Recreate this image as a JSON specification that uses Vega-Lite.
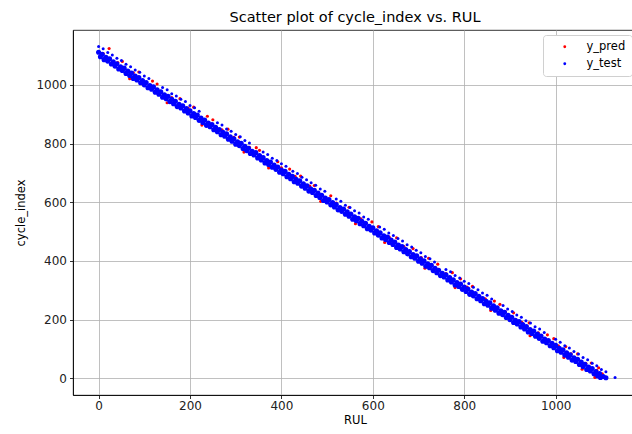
{
"$schema": "https://vega.github.io/schema/vega-lite/v6.json",
"width": 564, "height": 365,
"autosize": {"type": "none"},
"padding": {"left": 73, "top": 30, "right": 0, "bottom": 39},
"background": "white",
"title": {"text": "Scatter plot of cycle_index vs. RUL", "font": "DejaVu Sans", "fontSize": 14.5, "fontWeight": "normal", "color": "#000000", "offset": 5, "anchor": "middle"},
"config": {
  "view": {"stroke": "#000000", "strokeWidth": 0.8},
  "axis": {"labelFont": "DejaVu Sans", "labelFontSize": 12, "labelColor": "#222222", "titleFont": "DejaVu Sans", "titleFontSize": 11.5, "titleFontWeight": "normal", "titleColor": "#000000", "domainColor": "#000000", "domainWidth": 0.8, "tickColor": "#000000", "tickWidth": 0.8, "tickSize": 3.5, "gridColor": "#b0b0b0", "gridWidth": 0.8, "labelPadding": 2, "grid": true, "format": "d"},
  "legend": {"orient": "top-right", "offset": 5, "padding": 6, "strokeColor": "#d0d0d0", "fillColor": "#ffffff", "cornerRadius": 3, "symbolSize": 8, "symbolType": "circle", "symbolOffset": 10, "labelOffset": 16, "labelFont": "DejaVu Sans", "labelFontSize": 11.5, "labelColor": "#000000", "rowPadding": 4, "symbolStrokeWidth": 0}
},
"datasets": {
"pred": [
{"x":23,"y":1124,"s":"y_pred"},{"x":52,"y":1080,"s":"y_pred"},{"x":88,"y":1044,"s":"y_pred"},{"x":118,"y":1013,"s":"y_pred"},{"x":128,"y":1003,"s":"y_pred"},{"x":178,"y":953,"s":"y_pred"},{"x":208,"y":924,"s":"y_pred"},{"x":238,"y":893,"s":"y_pred"},{"x":250,"y":881,"s":"y_pred"},{"x":283,"y":849,"s":"y_pred"},{"x":308,"y":822,"s":"y_pred"},{"x":345,"y":786,"s":"y_pred"},{"x":352,"y":777,"s":"y_pred"},{"x":392,"y":738,"s":"y_pred"},{"x":418,"y":713,"s":"y_pred"},{"x":442,"y":689,"s":"y_pred"},{"x":472,"y":657,"s":"y_pred"},{"x":508,"y":622,"s":"y_pred"},{"x":548,"y":583,"s":"y_pred"},{"x":598,"y":533,"s":"y_pred"},{"x":612,"y":517,"s":"y_pred"},{"x":652,"y":479,"s":"y_pred"},{"x":688,"y":442,"s":"y_pred"},{"x":722,"y":409,"s":"y_pred"},{"x":742,"y":389,"s":"y_pred"},{"x":774,"y":360,"s":"y_pred"},{"x":792,"y":339,"s":"y_pred"},{"x":818,"y":313,"s":"y_pred"},{"x":866,"y":263,"s":"y_pred"},{"x":878,"y":252,"s":"y_pred"},{"x":908,"y":223,"s":"y_pred"},{"x":942,"y":189,"s":"y_pred"},{"x":982,"y":148,"s":"y_pred"},{"x":996,"y":135,"s":"y_pred"},{"x":1022,"y":108,"s":"y_pred"},{"x":1048,"y":83,"s":"y_pred"},{"x":1078,"y":52,"s":"y_pred"},{"x":1094,"y":36,"s":"y_pred"},
{"x":10,"y":1107,"s":"y_pred"},{"x":42,"y":1076,"s":"y_pred"},{"x":76,"y":1041,"s":"y_pred"},{"x":160,"y":957,"s":"y_pred"},{"x":196,"y":921,"s":"y_pred"},{"x":270,"y":847,"s":"y_pred"},{"x":296,"y":821,"s":"y_pred"},{"x":330,"y":787,"s":"y_pred"},{"x":400,"y":717,"s":"y_pred"},{"x":430,"y":688,"s":"y_pred"},{"x":462,"y":655,"s":"y_pred"},{"x":520,"y":597,"s":"y_pred"},{"x":574,"y":543,"s":"y_pred"},{"x":636,"y":481,"s":"y_pred"},{"x":668,"y":449,"s":"y_pred"},{"x":706,"y":411,"s":"y_pred"},{"x":760,"y":357,"s":"y_pred"},{"x":806,"y":311,"s":"y_pred"},{"x":846,"y":271,"s":"y_pred"},{"x":890,"y":227,"s":"y_pred"},{"x":926,"y":191,"s":"y_pred"},{"x":962,"y":155,"s":"y_pred"},{"x":1006,"y":111,"s":"y_pred"},{"x":1034,"y":83,"s":"y_pred"},{"x":1066,"y":51,"s":"y_pred"},{"x":1090,"y":27,"s":"y_pred"},{"x":1102,"y":15,"s":"y_pred"},
{"x":68,"y":1021,"s":"y_pred"},{"x":150,"y":939,"s":"y_pred"},{"x":226,"y":863,"s":"y_pred"},{"x":318,"y":771,"s":"y_pred"},{"x":372,"y":717,"s":"y_pred"},{"x":486,"y":603,"s":"y_pred"},{"x":562,"y":527,"s":"y_pred"},{"x":626,"y":463,"s":"y_pred"},{"x":714,"y":375,"s":"y_pred"},{"x":780,"y":309,"s":"y_pred"},{"x":858,"y":231,"s":"y_pred"},{"x":944,"y":145,"s":"y_pred"},{"x":1018,"y":71,"s":"y_pred"},{"x":1058,"y":31,"s":"y_pred"},{"x":1086,"y":3,"s":"y_pred"}
],
"band": [
{"x":0,"y":1111,"s":"y_test"},{"x":8,"y":1104,"s":"y_test"},{"x":16,"y":1094,"s":"y_test"},{"x":24,"y":1089,"s":"y_test"},{"x":32,"y":1079,"s":"y_test"},{"x":40,"y":1072,"s":"y_test"},{"x":48,"y":1062,"s":"y_test"},{"x":56,"y":1057,"s":"y_test"},{"x":64,"y":1047,"s":"y_test"},{"x":72,"y":1040,"s":"y_test"},{"x":80,"y":1030,"s":"y_test"},{"x":88,"y":1025,"s":"y_test"},{"x":96,"y":1015,"s":"y_test"},{"x":104,"y":1008,"s":"y_test"},{"x":112,"y":998,"s":"y_test"},{"x":120,"y":993,"s":"y_test"},{"x":128,"y":983,"s":"y_test"},{"x":136,"y":976,"s":"y_test"},{"x":144,"y":966,"s":"y_test"},{"x":152,"y":961,"s":"y_test"},{"x":160,"y":951,"s":"y_test"},{"x":168,"y":944,"s":"y_test"},{"x":176,"y":934,"s":"y_test"},{"x":184,"y":929,"s":"y_test"},{"x":192,"y":919,"s":"y_test"},{"x":200,"y":912,"s":"y_test"},{"x":208,"y":902,"s":"y_test"},{"x":216,"y":897,"s":"y_test"},{"x":224,"y":887,"s":"y_test"},{"x":232,"y":880,"s":"y_test"},{"x":240,"y":870,"s":"y_test"},{"x":248,"y":865,"s":"y_test"},{"x":256,"y":855,"s":"y_test"},{"x":264,"y":848,"s":"y_test"},{"x":272,"y":838,"s":"y_test"},{"x":280,"y":833,"s":"y_test"},{"x":288,"y":823,"s":"y_test"},{"x":296,"y":816,"s":"y_test"},{"x":304,"y":806,"s":"y_test"},{"x":312,"y":801,"s":"y_test"},{"x":320,"y":791,"s":"y_test"},{"x":328,"y":784,"s":"y_test"},{"x":336,"y":774,"s":"y_test"},{"x":344,"y":769,"s":"y_test"},{"x":352,"y":759,"s":"y_test"},{"x":360,"y":752,"s":"y_test"},{"x":368,"y":742,"s":"y_test"},{"x":376,"y":737,"s":"y_test"},{"x":384,"y":727,"s":"y_test"},{"x":392,"y":720,"s":"y_test"},{"x":400,"y":710,"s":"y_test"},{"x":408,"y":705,"s":"y_test"},{"x":416,"y":695,"s":"y_test"},{"x":424,"y":688,"s":"y_test"},{"x":432,"y":678,"s":"y_test"},{"x":440,"y":673,"s":"y_test"},{"x":448,"y":663,"s":"y_test"},{"x":456,"y":656,"s":"y_test"},{"x":464,"y":646,"s":"y_test"},{"x":472,"y":641,"s":"y_test"},{"x":480,"y":631,"s":"y_test"},{"x":488,"y":624,"s":"y_test"},{"x":496,"y":614,"s":"y_test"},{"x":504,"y":609,"s":"y_test"},{"x":512,"y":599,"s":"y_test"},{"x":520,"y":592,"s":"y_test"},{"x":528,"y":582,"s":"y_test"},{"x":536,"y":577,"s":"y_test"},{"x":544,"y":567,"s":"y_test"},{"x":552,"y":560,"s":"y_test"},{"x":560,"y":550,"s":"y_test"},{"x":568,"y":545,"s":"y_test"},{"x":576,"y":535,"s":"y_test"},{"x":584,"y":528,"s":"y_test"},{"x":592,"y":518,"s":"y_test"},{"x":600,"y":513,"s":"y_test"},{"x":608,"y":503,"s":"y_test"},{"x":616,"y":496,"s":"y_test"},{"x":624,"y":486,"s":"y_test"},{"x":632,"y":481,"s":"y_test"},{"x":640,"y":471,"s":"y_test"},{"x":648,"y":464,"s":"y_test"},{"x":656,"y":454,"s":"y_test"},{"x":664,"y":449,"s":"y_test"},{"x":672,"y":439,"s":"y_test"},{"x":680,"y":432,"s":"y_test"},{"x":688,"y":422,"s":"y_test"},{"x":696,"y":417,"s":"y_test"},{"x":704,"y":407,"s":"y_test"},{"x":712,"y":400,"s":"y_test"},{"x":720,"y":390,"s":"y_test"},{"x":728,"y":385,"s":"y_test"},{"x":736,"y":375,"s":"y_test"},{"x":744,"y":368,"s":"y_test"},{"x":752,"y":358,"s":"y_test"},{"x":760,"y":353,"s":"y_test"},{"x":768,"y":343,"s":"y_test"},{"x":776,"y":336,"s":"y_test"},{"x":784,"y":326,"s":"y_test"},{"x":792,"y":321,"s":"y_test"},{"x":800,"y":311,"s":"y_test"},{"x":808,"y":304,"s":"y_test"},{"x":816,"y":294,"s":"y_test"},{"x":824,"y":289,"s":"y_test"},{"x":832,"y":279,"s":"y_test"},{"x":840,"y":272,"s":"y_test"},{"x":848,"y":262,"s":"y_test"},{"x":856,"y":257,"s":"y_test"},{"x":864,"y":247,"s":"y_test"},{"x":872,"y":240,"s":"y_test"},{"x":880,"y":230,"s":"y_test"},{"x":888,"y":225,"s":"y_test"},{"x":896,"y":215,"s":"y_test"},{"x":904,"y":208,"s":"y_test"},{"x":912,"y":198,"s":"y_test"},{"x":920,"y":193,"s":"y_test"},{"x":928,"y":183,"s":"y_test"},{"x":936,"y":176,"s":"y_test"},{"x":944,"y":166,"s":"y_test"},{"x":952,"y":161,"s":"y_test"},{"x":960,"y":151,"s":"y_test"},{"x":968,"y":144,"s":"y_test"},{"x":976,"y":134,"s":"y_test"},{"x":984,"y":129,"s":"y_test"},{"x":992,"y":119,"s":"y_test"},{"x":1000,"y":112,"s":"y_test"},{"x":1008,"y":102,"s":"y_test"},{"x":1016,"y":97,"s":"y_test"},{"x":1024,"y":87,"s":"y_test"},{"x":1032,"y":80,"s":"y_test"},{"x":1040,"y":70,"s":"y_test"},{"x":1048,"y":65,"s":"y_test"},{"x":1056,"y":55,"s":"y_test"},{"x":1064,"y":48,"s":"y_test"},{"x":1072,"y":38,"s":"y_test"},{"x":1080,"y":33,"s":"y_test"},{"x":1088,"y":23,"s":"y_test"},{"x":1096,"y":16,"s":"y_test"},{"x":1104,"y":6,"s":"y_test"},{"x":1110,"y":2,"s":"y_test"},
{"x":4,"y":1096,"s":"y_test"},{"x":12,"y":1086,"s":"y_test"},{"x":20,"y":1081,"s":"y_test"},{"x":28,"y":1071,"s":"y_test"},{"x":36,"y":1064,"s":"y_test"},{"x":44,"y":1054,"s":"y_test"},{"x":52,"y":1049,"s":"y_test"},{"x":60,"y":1039,"s":"y_test"},{"x":68,"y":1032,"s":"y_test"},{"x":76,"y":1022,"s":"y_test"},{"x":84,"y":1017,"s":"y_test"},{"x":92,"y":1007,"s":"y_test"},{"x":100,"y":1000,"s":"y_test"},{"x":108,"y":990,"s":"y_test"},{"x":116,"y":985,"s":"y_test"},{"x":124,"y":975,"s":"y_test"},{"x":132,"y":968,"s":"y_test"},{"x":140,"y":958,"s":"y_test"},{"x":148,"y":953,"s":"y_test"},{"x":156,"y":943,"s":"y_test"},{"x":164,"y":936,"s":"y_test"},{"x":172,"y":926,"s":"y_test"},{"x":180,"y":921,"s":"y_test"},{"x":188,"y":911,"s":"y_test"},{"x":196,"y":904,"s":"y_test"},{"x":204,"y":894,"s":"y_test"},{"x":212,"y":889,"s":"y_test"},{"x":220,"y":879,"s":"y_test"},{"x":228,"y":872,"s":"y_test"},{"x":236,"y":862,"s":"y_test"},{"x":244,"y":857,"s":"y_test"},{"x":252,"y":847,"s":"y_test"},{"x":260,"y":840,"s":"y_test"},{"x":268,"y":830,"s":"y_test"},{"x":276,"y":825,"s":"y_test"},{"x":284,"y":815,"s":"y_test"},{"x":292,"y":808,"s":"y_test"},{"x":300,"y":798,"s":"y_test"},{"x":308,"y":793,"s":"y_test"},{"x":316,"y":783,"s":"y_test"},{"x":324,"y":776,"s":"y_test"},{"x":332,"y":766,"s":"y_test"},{"x":340,"y":761,"s":"y_test"},{"x":348,"y":751,"s":"y_test"},{"x":356,"y":744,"s":"y_test"},{"x":364,"y":734,"s":"y_test"},{"x":372,"y":729,"s":"y_test"},{"x":380,"y":719,"s":"y_test"},{"x":388,"y":712,"s":"y_test"},{"x":396,"y":702,"s":"y_test"},{"x":404,"y":697,"s":"y_test"},{"x":412,"y":687,"s":"y_test"},{"x":420,"y":680,"s":"y_test"},{"x":428,"y":670,"s":"y_test"},{"x":436,"y":665,"s":"y_test"},{"x":444,"y":655,"s":"y_test"},{"x":452,"y":648,"s":"y_test"},{"x":460,"y":638,"s":"y_test"},{"x":468,"y":633,"s":"y_test"},{"x":476,"y":623,"s":"y_test"},{"x":484,"y":616,"s":"y_test"},{"x":492,"y":606,"s":"y_test"},{"x":500,"y":601,"s":"y_test"},{"x":508,"y":591,"s":"y_test"},{"x":516,"y":584,"s":"y_test"},{"x":524,"y":574,"s":"y_test"},{"x":532,"y":569,"s":"y_test"},{"x":540,"y":559,"s":"y_test"},{"x":548,"y":552,"s":"y_test"},{"x":556,"y":542,"s":"y_test"},{"x":564,"y":537,"s":"y_test"},{"x":572,"y":527,"s":"y_test"},{"x":580,"y":520,"s":"y_test"},{"x":588,"y":510,"s":"y_test"},{"x":596,"y":505,"s":"y_test"},{"x":604,"y":495,"s":"y_test"},{"x":612,"y":488,"s":"y_test"},{"x":620,"y":478,"s":"y_test"},{"x":628,"y":473,"s":"y_test"},{"x":636,"y":463,"s":"y_test"},{"x":644,"y":456,"s":"y_test"},{"x":652,"y":446,"s":"y_test"},{"x":660,"y":441,"s":"y_test"},{"x":668,"y":431,"s":"y_test"},{"x":676,"y":424,"s":"y_test"},{"x":684,"y":414,"s":"y_test"},{"x":692,"y":409,"s":"y_test"},{"x":700,"y":399,"s":"y_test"},{"x":708,"y":392,"s":"y_test"},{"x":716,"y":382,"s":"y_test"},{"x":724,"y":377,"s":"y_test"},{"x":732,"y":367,"s":"y_test"},{"x":740,"y":360,"s":"y_test"},{"x":748,"y":350,"s":"y_test"},{"x":756,"y":345,"s":"y_test"},{"x":764,"y":335,"s":"y_test"},{"x":772,"y":328,"s":"y_test"},{"x":780,"y":318,"s":"y_test"},{"x":788,"y":313,"s":"y_test"},{"x":796,"y":303,"s":"y_test"},{"x":804,"y":296,"s":"y_test"},{"x":812,"y":286,"s":"y_test"},{"x":820,"y":281,"s":"y_test"},{"x":828,"y":271,"s":"y_test"},{"x":836,"y":264,"s":"y_test"},{"x":844,"y":254,"s":"y_test"},{"x":852,"y":249,"s":"y_test"},{"x":860,"y":239,"s":"y_test"},{"x":868,"y":232,"s":"y_test"},{"x":876,"y":222,"s":"y_test"},{"x":884,"y":217,"s":"y_test"},{"x":892,"y":207,"s":"y_test"},{"x":900,"y":200,"s":"y_test"},{"x":908,"y":190,"s":"y_test"},{"x":916,"y":185,"s":"y_test"},{"x":924,"y":175,"s":"y_test"},{"x":932,"y":168,"s":"y_test"},{"x":940,"y":158,"s":"y_test"},{"x":948,"y":153,"s":"y_test"},{"x":956,"y":143,"s":"y_test"},{"x":964,"y":136,"s":"y_test"},{"x":972,"y":126,"s":"y_test"},{"x":980,"y":121,"s":"y_test"},{"x":988,"y":111,"s":"y_test"},{"x":996,"y":104,"s":"y_test"},{"x":1004,"y":94,"s":"y_test"},{"x":1012,"y":89,"s":"y_test"},{"x":1020,"y":79,"s":"y_test"},{"x":1028,"y":72,"s":"y_test"},{"x":1036,"y":62,"s":"y_test"},{"x":1044,"y":57,"s":"y_test"},{"x":1052,"y":47,"s":"y_test"},{"x":1060,"y":40,"s":"y_test"},{"x":1068,"y":30,"s":"y_test"},{"x":1076,"y":25,"s":"y_test"},{"x":1084,"y":15,"s":"y_test"},{"x":1092,"y":8,"s":"y_test"},{"x":1098,"y":3,"s":"y_test"}
],
"upper": [
{"x":0,"y":1131,"s":"y_test"},{"x":10,"y":1123,"s":"y_test"},{"x":20,"y":1110,"s":"y_test"},{"x":30,"y":1102,"s":"y_test"},{"x":40,"y":1091,"s":"y_test"},{"x":50,"y":1083,"s":"y_test"},{"x":60,"y":1070,"s":"y_test"},{"x":70,"y":1062,"s":"y_test"},{"x":80,"y":1051,"s":"y_test"},{"x":90,"y":1043,"s":"y_test"},{"x":100,"y":1030,"s":"y_test"},{"x":110,"y":1022,"s":"y_test"},
{"x":140,"y":991,"s":"y_test"},{"x":150,"y":983,"s":"y_test"},{"x":160,"y":970,"s":"y_test"},{"x":170,"y":962,"s":"y_test"},{"x":180,"y":951,"s":"y_test"},{"x":190,"y":943,"s":"y_test"},{"x":200,"y":930,"s":"y_test"},{"x":210,"y":922,"s":"y_test"},{"x":220,"y":910,"s":"y_test"},
{"x":260,"y":871,"s":"y_test"},{"x":270,"y":863,"s":"y_test"},{"x":280,"y":850,"s":"y_test"},{"x":290,"y":842,"s":"y_test"},{"x":300,"y":831,"s":"y_test"},{"x":310,"y":823,"s":"y_test"},{"x":320,"y":810,"s":"y_test"},{"x":330,"y":802,"s":"y_test"},
{"x":360,"y":771,"s":"y_test"},{"x":370,"y":763,"s":"y_test"},{"x":380,"y":750,"s":"y_test"},{"x":390,"y":742,"s":"y_test"},{"x":400,"y":731,"s":"y_test"},{"x":410,"y":723,"s":"y_test"},
{"x":425,"y":706,"s":"y_test"},{"x":435,"y":698,"s":"y_test"},{"x":445,"y":685,"s":"y_test"},{"x":455,"y":677,"s":"y_test"},{"x":465,"y":666,"s":"y_test"},{"x":475,"y":658,"s":"y_test"},{"x":485,"y":645,"s":"y_test"},{"x":495,"y":637,"s":"y_test"},
{"x":520,"y":611,"s":"y_test"},{"x":530,"y":603,"s":"y_test"},{"x":540,"y":590,"s":"y_test"},{"x":550,"y":582,"s":"y_test"},{"x":560,"y":571,"s":"y_test"},{"x":570,"y":563,"s":"y_test"},{"x":580,"y":550,"s":"y_test"},{"x":590,"y":542,"s":"y_test"},
{"x":615,"y":516,"s":"y_test"},{"x":625,"y":508,"s":"y_test"},{"x":635,"y":495,"s":"y_test"},{"x":645,"y":487,"s":"y_test"},{"x":655,"y":476,"s":"y_test"},{"x":665,"y":468,"s":"y_test"},{"x":675,"y":455,"s":"y_test"},{"x":685,"y":447,"s":"y_test"},{"x":695,"y":436,"s":"y_test"},{"x":705,"y":428,"s":"y_test"},{"x":715,"y":415,"s":"y_test"},{"x":725,"y":407,"s":"y_test"},{"x":735,"y":396,"s":"y_test"},
{"x":760,"y":371,"s":"y_test"},{"x":770,"y":363,"s":"y_test"},{"x":780,"y":350,"s":"y_test"},{"x":790,"y":342,"s":"y_test"},{"x":800,"y":331,"s":"y_test"},{"x":810,"y":323,"s":"y_test"},{"x":820,"y":310,"s":"y_test"},{"x":830,"y":302,"s":"y_test"},{"x":840,"y":291,"s":"y_test"},{"x":850,"y":283,"s":"y_test"},{"x":860,"y":270,"s":"y_test"},
{"x":885,"y":248,"s":"y_test"},{"x":895,"y":236,"s":"y_test"},{"x":905,"y":228,"s":"y_test"},{"x":915,"y":216,"s":"y_test"},{"x":925,"y":208,"s":"y_test"},{"x":935,"y":196,"s":"y_test"},{"x":945,"y":188,"s":"y_test"},{"x":955,"y":176,"s":"y_test"},{"x":965,"y":168,"s":"y_test"},{"x":975,"y":156,"s":"y_test"},
{"x":1000,"y":133,"s":"y_test"},{"x":1010,"y":123,"s":"y_test"},{"x":1020,"y":111,"s":"y_test"},{"x":1030,"y":103,"s":"y_test"},{"x":1040,"y":91,"s":"y_test"},{"x":1050,"y":83,"s":"y_test"},{"x":1060,"y":71,"s":"y_test"},{"x":1070,"y":63,"s":"y_test"},{"x":1080,"y":51,"s":"y_test"},{"x":1090,"y":43,"s":"y_test"},{"x":1100,"y":30,"s":"y_test"},{"x":1110,"y":22,"s":"y_test"},{"x":1130,"y":3,"s":"y_test"}
]
},
"encoding": {
  "x": {"field": "x", "type": "quantitative", "title": "RUL", "scale": {"domain": [-56, 1178], "nice": false, "zero": false}, "axis": {"values": [0, 200, 400, 600, 800, 1000], "titlePadding": 3}},
  "y": {"field": "y", "type": "quantitative", "title": "cycle_index", "scale": {"domain": [-57, 1187], "nice": false, "zero": false}, "axis": {"values": [0, 200, 400, 600, 800, 1000], "labelPadding": 3, "titlePadding": 9}},
  "color": {"field": "s", "type": "nominal", "scale": {"domain": ["y_pred", "y_test"], "range": ["#ff0000", "#0000ff"]}, "legend": {"title": null}}
},
"layer": [
  {"data": {"name": "pred"}, "mark": {"type": "circle", "size": 10, "opacity": 1}},
  {"data": {"name": "band"}, "mark": {"type": "circle", "size": 26, "opacity": 1}},
  {"data": {"name": "upper"}, "mark": {"type": "circle", "size": 9, "opacity": 1}}
]
}
